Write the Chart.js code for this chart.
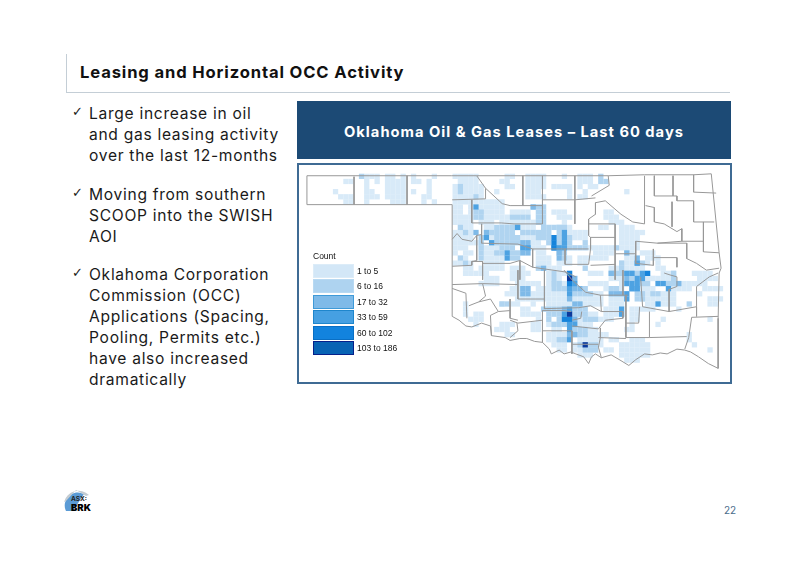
<!DOCTYPE html>
<html>
<head>
<meta charset="utf-8">
<title>Leasing and Horizontal OCC Activity</title>
<script src="https://cdn.jsdelivr.net/npm/chart.js@4"></script>
<style>
  html, body { margin: 0; background: #fff; }
  #slide { position: relative; width: 800px; height: 565px; overflow: hidden; font-family: "Inter", sans-serif; color: #1a1a1a; }
  .t { position: absolute; white-space: nowrap; }
  .body { font-size: 15.6px; letter-spacing: .7px; margin-top: 1px; }
  .tick { font-family: "DejaVu Sans"; font-size: 13px; }
  #title { left: 80px; top: 62px; font-size: 16.6px; font-weight: 700; letter-spacing: .86px; color: #111; }
  #rule1 { position: absolute; left: 66px; top: 54px; width: 1px; height: 38px; background: #c4ced6; }
  #rule2 { position: absolute; left: 66px; top: 92px; width: 664px; height: 1px; background: #c4ced6; }
  #banner { position: absolute; left: 297px; top: 101px; width: 434px; height: 58px; background: #1c4a75; color: #fff;
    font-size: 14.7px; font-weight: 700; letter-spacing: 1px; line-height: 62px; text-align: center; }
  #mapbox { position: absolute; left: 297px; top: 163px; width: 431px; height: 217px; border: 2px solid #3f6b94; }
  #map { display: block; filter: blur(.5px); }
  #legend { position: absolute; left: 14px; top: 84px; font-family: "Liberation Sans"; font-size: 8.5px; color: #111; }
  #legend .head { height: 14px; line-height: 14px; }
  #legend .row { height: 15.5px; display: flex; align-items: center; }
  #legend .sw { width: 41px; height: 14px; margin-right: 3px; box-sizing: border-box; }
  #page { left: 724px; top: 504px; font-size: 10px; color: #4a6d8c; }
</style>
</head>
<body>
<div id="slide">
  <div id="rule1"></div><div id="rule2"></div>
  <div class="t" id="title">Leasing and Horizontal OCC Activity</div>

  <div class="t tick" style="left:72px;top:104px">✓</div>
  <div class="t body" style="left:89px;top:103px">Large increase in oil</div>
  <div class="t body" style="left:89px;top:124px">and gas leasing activity</div>
  <div class="t body" style="left:89px;top:145px">over the last 12-months</div>
  <div class="t tick" style="left:72px;top:185px">✓</div>
  <div class="t body" style="left:89px;top:184px">Moving from southern</div>
  <div class="t body" style="left:89px;top:205px">SCOOP into the SWISH</div>
  <div class="t body" style="left:89px;top:226px">AOI</div>
  <div class="t tick" style="left:72px;top:265px">✓</div>
  <div class="t body" style="left:89px;top:264px">Oklahoma Corporation</div>
  <div class="t body" style="left:89px;top:285px">Commission (OCC)</div>
  <div class="t body" style="left:89px;top:306px">Applications (Spacing,</div>
  <div class="t body" style="left:89px;top:327px">Pooling, Permits etc.)</div>
  <div class="t body" style="left:89px;top:348px">have also increased</div>
  <div class="t body" style="left:89px;top:369px">dramatically</div>

  <div id="banner">Oklahoma Oil &amp; Gas Leases – Last 60 days</div>
  <div id="mapbox">
    <canvas id="map" width="431" height="217"></canvas>
    <div id="legend"><div class="head">Count</div></div>
  </div>

  <svg style="position:absolute;left:60px;top:485px" width="34" height="30">
    <path d="M6 26 A13 13 0 0 1 24 9 L13 26 Z" fill="#5b9bd5"/>
    <path d="M4 17 A15 15 0 0 1 29 10 L26 11 L16 5 L6 16 Z" fill="#c4ccd2"/>
  </svg>
  <div class="t" style="left:71px;top:495px;font-size:6.5px;font-weight:700;color:#222">ASX:</div>
  <div class="t" style="left:71px;top:502px;font-size:9.5px;font-weight:900;color:#000">BRK</div>
  <div class="t" id="page">22</div>
</div>

<script>
const legendLabels = ["1 to 5", "6 to 16", "17 to 32", "33 to 59", "60 to 102", "103 to 186"];
const tierColors = ["#d8eaf8", "#b0d4f0", "#7fbae8", "#4da2e2", "#1684db", "#0b3a9c"];
const legendColors = ["#d3e7f7", "#aed3f0", "#7fbae8", "#46a0e2", "#1283de", "#0863b4"];
const legendEdges = ["#dcecf8", "#b8d9f2", "#3f9ad8", "#1f86cc", "#0a6fc4", "#06208a"];

// lease cells per count band, as [row, first column, last column]
const band1Runs = [
  // panhandle
  [1,7,8],[3,5,5],[4,6,8],[5,7,8],[0,11,13],[1,11,11],[1,13,13],[2,11,11],[3,11,12],[4,11,13],[5,11,11],
  [0,15,16],[0,18,18],[1,15,18],[2,15,18],[3,15,18],[4,15,18],[5,16,18],
  [0,20,20],[1,20,21],[1,23,23],[2,23,23],[3,20,20],[3,23,23],[4,22,23],[5,22,22],[5,24,24],[0,24,24],
  // north
  [0,28,32],[0,38,39],[0,42,45],[0,49,49],[0,52,54],
  [1,29,32],[1,37,38],[1,42,45],[1,52,54],
  [2,28,33],[2,38,39],[2,42,45],[2,47,49],[2,50,50],[2,52,52],[2,54,55],
  [3,28,28],[3,30,33],[3,36,36],[3,42,44],[3,50,50],[3,53,53],[3,61,61],
  [4,28,31],[4,33,33],[4,42,45],[4,50,50],[4,52,53],
  [5,28,31],[5,32,37],
  [6,28,29],[6,31,31],[6,33,37],
  [7,28,29],[7,31,31],[7,33,37],[7,39,42],[7,47,49],[7,57,58],
  [8,28,31],[8,34,37],[8,38,38],[8,48,50],[8,57,59],
  [9,28,31],[9,33,35],[9,37,43],[9,49,49],[9,58,60],
  // middle
  [10,30,31],[10,34,35],[10,41,43],[10,49,50],[10,56,57],[10,60,62],
  [11,28,29],[11,31,31],[11,50,52],[11,53,53],[11,60,64],
  [12,28,31],[12,35,35],[12,41,43],[12,51,53],[12,60,63],
  [13,28,32],[13,36,36],[13,43,44],[13,60,63],
  [14,28,30],[14,33,36],[14,43,45],[14,54,58],[14,60,63],
  [15,28,28],[15,30,31],[15,34,36],[15,44,45],[15,55,58],[15,61,62],[15,64,66],
  [16,30,30],[16,34,37],[16,44,46],[16,50,50],[16,52,54],[16,55,57],[16,61,62],[16,65,67],
  [17,28,29],[17,31,31],[17,34,37],[17,44,46],[17,48,50],[17,52,53],[17,60,62],[17,67,67],[17,65,65],
  [18,30,31],[18,35,37],[18,39,41],[18,46,48],[18,58,60],[18,61,64],[18,67,68],
  // south of the Canadian
  [19,39,42],[19,46,46],[19,48,49],[19,54,56],[19,62,63],[19,68,70],[19,74,77],
  [20,39,41],[20,46,46],[20,48,48],[20,58,60],[20,65,66],[20,66,70],[20,75,78],
  [21,40,44],[21,46,49],[21,54,57],[21,60,60],[21,71,74],[21,75,76],
  [22,39,40],[22,44,45],[22,46,46],[22,57,60],[22,64,66],[22,70,73],[22,76,79],
  [23,39,40],[23,43,45],[23,46,49],[23,53,56],[23,64,65],[23,68,70],[23,75,75],
  [24,40,45],[24,46,49],[24,50,56],[24,58,60],[24,64,65],[24,66,70],[24,77,79],
  [25,39,40],[25,43,43],[25,46,49],[25,50,50],[25,52,56],[25,58,60],[25,65,70],[25,77,78],
  [26,41,42],[26,57,59],[26,62,66],[26,71,71],
  [27,41,44],[27,52,55],[27,62,63],[27,57,59],
  [28,44,44],[28,51,52],[28,56,58],[28,62,63],[28,68,68],[28,77,77],
  [29,43,44],[29,46,47],[29,52,54],[29,67,67],[29,62,62],
  [30,43,44],[30,47,48],[30,54,55],[30,61,62],
  [31,46,49],[31,53,56],[31,73,73],[31,57,57],
  [32,46,49],[32,52,56],[32,58,59],[32,73,73],[32,62,64],
  [33,47,49],[33,51,56],[33,60,65],[33,74,74],
  [34,48,49],[34,51,55],[34,60,65],[34,77,77],[34,57,58],
  [35,52,54],[35,60,65],[36,61,63],
  // southwest
  [25,30,30],[26,30,30],[27,30,30],[27,32,33],[28,31,33],[29,32,32],[29,37,39],[30,36,38],[31,38,39],[25,37,37],
  [22,39,41],[23,38,38],[20,34,36],[21,33,36],[19,30,34],[18,33,34]
];
const band2Runs = [
  [0,10,10],[2,29,29],[3,29,29],[4,32,32],[7,32,33],[8,32,33],[6,43,43],[6,44,45],[7,44,45],[8,39,42],[8,44,45],
  [9,44,45],[10,29,29],[10,36,36],[10,37,39],[10,45,48],[10,48,49],[11,30,30],[11,35,39],[11,41,44],[11,45,46],[11,48,48],
  [12,33,33],[12,36,40],[12,44,45],[12,46,46],[12,48,48],[12,50,50],[13,33,33],[13,36,40],[13,46,46],[13,48,48],[13,49,50],[13,53,53],
  [14,33,33],[14,37,39],[14,47,49],[14,50,53],[14,59,59],[15,33,33],[15,36,37],[15,39,40],[15,48,49],[16,29,29],[16,33,33],[16,39,40],[16,49,49],
  [17,30,30],[17,60,60],[17,64,64],[18,53,53],[18,60,60],[18,44,44],
  [1,56,57],[0,56,56],[19,47,47],[19,58,59],[19,60,61],[19,62,63],[20,47,47],[20,62,62],[21,64,65],[21,69,70],
  [21,47,48],[22,47,49],[22,53,53],[22,58,59],[23,51,54],[23,63,64],[23,66,67],[24,63,64],
  [26,45,48],[26,51,53],[27,46,48],[27,51,53],[28,46,46],[28,48,48],[28,53,55],[29,47,49],[30,51,53],[31,51,53],
  [32,48,49],[33,52,55],[34,53,55],[19,70,70],[20,70,70],[25,73,73],[25,37,38]
];
const band3Runs = [
  [6,43,43],[10,40,40],[11,32,32],[11,34,34],[13,41,42],[15,41,42],[14,42,42],
  [14,47,47],[15,48,48],[15,61,61],[16,48,48],[16,63,63],[17,63,63],
  [18,45,45],[19,58,58],[20,51,51],[20,61,61],[21,71,71],[22,51,52],[22,41,42],[23,41,42],[23,58,60],[22,62,63],
  [24,50,50],[25,51,52],[26,49,49],[28,51,51],[31,50,51]
];
const band4Runs = [
  [6,32,32],[10,40,40],[11,49,49],[12,34,34],[12,49,49],[13,35,35],[13,49,49],[14,41,42],[14,48,49],[15,38,38],[16,38,38],
  [17,63,63],[19,61,62],[19,64,64],[20,63,64],[21,61,63],[21,51,51],[21,67,68],[22,50,50],[22,69,69],[22,62,63],
  [23,50,50],[23,61,61],[24,61,61],[25,67,67],[26,60,60],[27,60,60],[26,50,50],[27,49,49],[29,50,51],[30,50,50],[32,50,50]
];
const band5Runs = [
  [12,47,47],[13,47,47],[14,47,47],[19,65,65],[19,50,50],[21,50,50],[28,49,50]
];
const band6Runs = [
  [20,50,50],[27,50,50],[33,53,53]
];
const bandRuns = [band1Runs, band2Runs, band3Runs, band4Runs, band5Runs, band6Runs];

// state and county borders in map units
const stateOutline = [
  [303,172],[450,172],[476,172],[510,172],[543,172],[576,172],[610,172],[647,171],[676,171],[697,171],[715,170],
  [723,252],[725,268],[723,273],[722,320],[722,372],[712,367],[702,360],[694,355],[688,353],[680,352],[670,357],
  [663,356],[655,358],[647,357],[638,363],[631,369],[623,364],[613,358],[603,361],[597,357],[593,360],[590,367],
  [585,360],[577,357],[572,355],[565,357],[560,353],[552,357],[550,352],[543,345],[535,344],[527,341],[520,341],
  [510,343],[505,340],[491,338],[490,328],[481,325],[471,329],[465,328],[458,322],[451,318],[451,202],[303,202],[303,172]
];
const countyLines = [
  [[351,173],[351,202]], [[405,172],[405,202]],
  [[476,172],[485,185],[502,201],[510,203],[523,203],[543,203]],
  [[451,197],[485,196],[485,185]],
  [[471,197],[471,221],[501,221],[514,222],[543,222]],
  [[481,222],[481,242],[518,243],[533,248],[566,248],[590,248]],
  [[451,238],[456,232],[461,238],[471,240],[476,234],[481,233]],
  [[476,234],[476,260],[471,261],[471,265],[451,266]],
  [[471,261],[482,261],[482,280]],
  [[482,263],[510,263],[520,260],[533,267]],
  [[523,172],[523,203]], [[543,172],[543,222]], [[543,197],[576,197]],
  [[576,172],[576,222]], [[576,197],[597,195]],
  [[610,172],[611,182],[593,193]],
  [[597,200],[607,198],[623,212],[635,220],[647,222],[647,172]],
  [[597,200],[597,212],[590,217],[590,234],[592,236],[592,248],[590,264]],
  [[590,222],[617,222],[617,280]], [[592,236],[617,236]],
  [[648,203],[657,205],[657,220],[667,222],[680,230],[685,227],[685,240],[707,240]],
  [[657,172],[657,193],[680,193],[680,198],[697,198]],
  [[676,172],[676,193]], [[697,171],[697,189],[720,190]],
  [[675,199],[675,225]], [[697,198],[697,220],[718,220]],
  [[707,220],[707,251],[723,252]],
  [[685,240],[660,242],[638,240],[638,263]],
  [[660,242],[690,242],[690,258],[700,263],[710,270],[723,268]],
  [[617,253],[638,253]], [[656,248],[656,265],[638,263]], [[656,257],[680,257],[680,267]],
  [[566,248],[566,264],[590,264]], [[592,265],[617,264]],
  [[533,248],[533,267],[567,272],[577,277]],
  [[520,260],[520,280]],
  [[545,270],[545,310]], [[518,270],[518,300],[545,300]],
  [[565,270],[573,280],[587,293],[602,296],[630,296]],
  [[602,296],[603,313],[625,313],[625,320]],
  [[625,270],[625,296]],
  [[643,277],[645,308],[672,313]],
  [[628,296],[628,325],[641,325],[642,308]],
  [[672,290],[672,313],[700,308],[700,287],[713,277],[722,273]],
  [[672,290],[680,287],[680,277],[673,275],[667,273]],
  [[722,318],[695,319],[692,340],[688,352]],
  [[700,308],[700,318]],
  [[628,325],[628,340],[652,340],[652,313]], [[652,340],[690,339]],
  [[600,340],[628,341]], [[602,340],[600,350],[603,361]],
  [[543,312],[543,345]], [[543,333],[573,333],[573,357]],
  [[543,312],[565,312],[572,313]],
  [[545,310],[580,309],[592,307],[603,313]],
  [[573,322],[582,320],[583,313]],
  [[573,328],[600,331],[607,322],[625,320]],
  [[602,330],[602,340]], [[573,347],[600,347]],
  [[510,322],[518,325],[543,322]], [[517,325],[518,333],[510,340]],
  [[451,285],[482,284],[518,285]], [[482,284],[485,297],[478,303],[468,307]],
  [[451,289],[465,294],[466,320]],
  [[478,303],[490,300],[498,313],[490,317],[491,338]],
  [[498,313],[510,312]], [[510,300],[510,320],[518,322]]
];

const cellSize = 5.3;
const mapLeft = 303, mapTop = 170;

function cellsFromRuns(runs) {
  const pts = [];
  runs.forEach(([row, first, last]) => {
    for (let c = first; c <= last; c++) {
      pts.push({ x: mapLeft + (c + 0.5) * cellSize, y: mapTop + (row + 0.5) * cellSize });
    }
  });
  return pts;
}

const datasets = [];
bandRuns.forEach((runs, i) => {
  datasets.push({
    label: legendLabels[i],
    data: cellsFromRuns(runs),
    backgroundColor: tierColors[i],
    pointStyle: "rect",
    pointRadius: cellSize / Math.SQRT2,
    pointBorderWidth: 0,
    order: 10 - i
  });
});
[stateOutline, ...countyLines].forEach((line, i) => {
  datasets.push({
    label: i ? "county" : "state",
    data: line.map(p => ({ x: p[0], y: p[1] })),
    showLine: true,
    borderColor: "#989898",
    borderWidth: 1,
    pointRadius: 0,
    order: 1
  });
});

new Chart(document.getElementById("map"), {
  type: "scatter",
  data: { datasets },
  options: {
    responsive: false,
    animation: false,
    layout: { padding: 0 },
    plugins: { legend: { display: false }, tooltip: { enabled: false } },
    scales: {
      x: { display: false, min: 299, max: 730 },
      y: { display: false, min: 165, max: 382, reverse: true }
    }
  }
});

const legendDiv = document.getElementById("legend");
legendLabels.forEach((label, i) => {
  const row = document.createElement("div");
  row.className = "row";
  row.innerHTML = `<div class="sw" style="background:${legendColors[i]};border:1px solid ${legendEdges[i]}"></div>${label}`;
  legendDiv.appendChild(row);
});
</script>
</body>
</html>
